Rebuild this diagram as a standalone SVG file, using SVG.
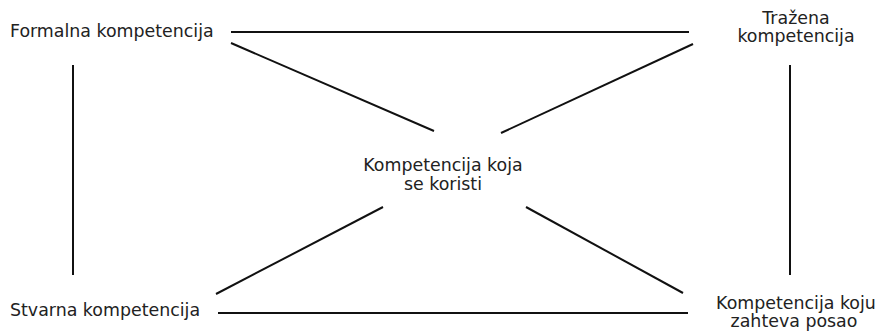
<svg xmlns="http://www.w3.org/2000/svg" width="881" height="331" viewBox="0 0 881 331">
<style>
text{font-family:"DejaVu Sans","Liberation Sans",sans-serif;font-size:17.4px;fill:#222}
.c{text-anchor:middle}
line{stroke:#111;stroke-width:2}
</style>
<rect width="881" height="331" fill="#fff"/>
<g id="connectors">
<line x1="231" y1="32" x2="689" y2="32"/>
<line x1="231" y1="43" x2="434" y2="131"/>
<line x1="693" y1="44" x2="501" y2="133"/>
<line x1="73" y1="65" x2="73" y2="275"/>
<line x1="790" y1="65" x2="790" y2="275"/>
<line x1="383" y1="207" x2="216" y2="294"/>
<line x1="526" y1="207" x2="683" y2="293"/>
<line x1="218" y1="313" x2="688" y2="313"/>
</g>
<g id="formalna"><text x="10" y="37">Formalna kompetencija</text></g>
<g id="trazena"><text class="c" x="796" y="24">Tražena</text><text class="c" x="796" y="42">kompetencija</text></g>
<g id="koristi"><text class="c" x="443" y="171">Kompetencija koja</text><text class="c" x="443" y="190">se koristi</text></g>
<g id="stvarna"><text x="10" y="316">Stvarna kompetencija</text></g>
<g id="posao"><text class="c" x="796" y="309">Kompetencija koju</text><text class="c" x="794" y="327">zahteva posao</text></g>
</svg>
